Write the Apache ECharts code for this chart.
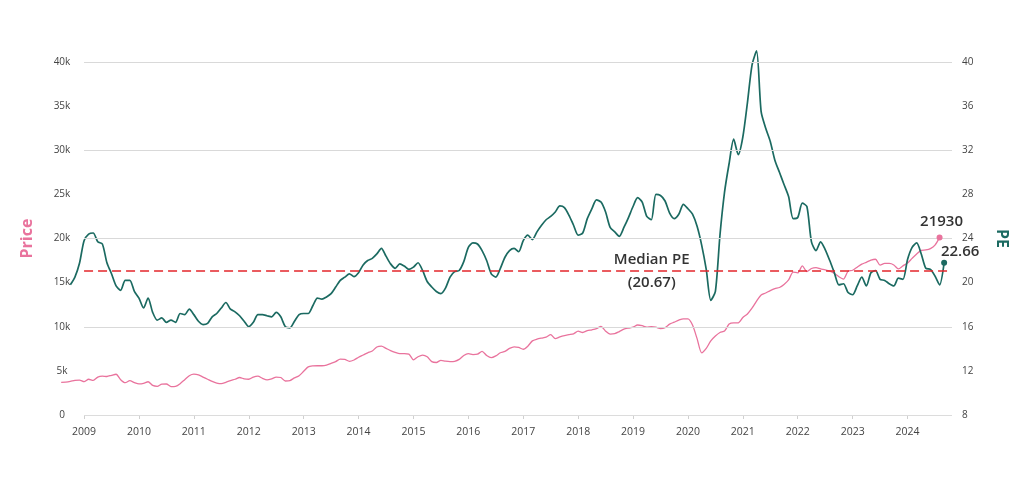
<!DOCTYPE html>
<html>
<head>
<meta charset="utf-8">
<script src="https://cdn.jsdelivr.net/npm/echarts@6/dist/echarts.min.js"></script>
<style>
html,body{margin:0;padding:0;background:#ffffff;}
#chart{width:1024px;height:478px;}
</style>
</head>
<body>
<div id="chart"></div>
<script>
// ---- data (monthly) ----
const priceStart = [2008, 8];   // first month of the price series
const priceValues = [
 3700,3720,3800,3930,3960,
 3780,4050,3920,4300,4400,4360,4500,4620,4000,3660,3890,3680,
 3530,3590,3770,3350,3250,3500,3510,3220,3250,3550,4000,4450,
 4630,4550,4300,4050,3800,3620,3550,3700,3900,4050,4250,4100,
 4050,4300,4400,4150,3980,4100,4300,4250,3850,3900,4200,4450,
 4950,5450,5560,5580,5580,5650,5850,6050,6340,6300,6080,6230,
 6550,6800,7050,7250,7700,7800,7550,7300,7100,6950,6950,6900,
 6250,6600,6790,6600,6050,5950,6200,6100,6050,6080,6300,6750,
 6950,6850,6900,7200,6750,6500,6700,7050,7200,7550,7730,7650,
 7450,7800,8400,8600,8720,8820,9100,8650,8850,9000,9100,9200,
 9500,9350,9550,9650,9780,10050,9500,9170,9220,9450,9720,9850,
 9950,10200,10120,9950,10000,9950,9800,9900,10300,10520,10750,10900,
 10900,10200,8650,7050,7550,8400,8950,9350,9510,10300,10450,10450,
 11050,11450,12100,12900,13600,13820,14100,14320,14450,14800,15300,16200,
 16100,16900,16250,16600,16700,16550,16450,16300,16050,15660,15400,16300,
 16400,16750,17100,17300,17550,17650,16980,17170,17170,17000,16550,16900,
 17220,17750,18250,18650,18700,18850,19250,20100
];
const peStart = [2008, 10];     // first month of the PE series
const peValues = [
 19.8,20.5,21.75,
 23.8,24.4,24.5,23.7,23.5,21.8,20.8,19.7,19.3,20.2,20.2,19.2,
 18.6,17.7,18.6,17.3,16.6,16.8,16.4,16.6,16.4,17.2,17.1,17.6,
 17.1,16.5,16.2,16.3,16.9,17.2,17.7,18.2,17.6,17.35,17.0,16.5,
 16.0,16.4,17.1,17.1,17.0,16.9,17.3,16.9,16.0,15.9,16.5,17.1,
 17.2,17.2,17.9,18.6,18.5,18.7,19.0,19.6,20.2,20.5,20.8,20.55,
 20.9,21.6,22.0,22.2,22.6,23.1,22.4,21.7,21.3,21.7,21.5,21.2,
 21.4,21.8,21.1,20.1,19.6,19.2,19.0,19.5,20.5,21.0,21.1,21.9,
 23.2,23.6,23.5,22.9,22.0,20.8,20.5,21.3,22.3,22.9,23.1,22.8,
 23.8,24.3,23.9,24.6,25.2,25.7,26.0,26.4,26.95,26.8,26.1,25.2,
 24.3,24.5,25.8,26.7,27.5,27.3,26.4,25.0,24.6,24.2,25.0,25.9,
 26.9,27.7,27.3,26.0,25.7,28.0,27.9,27.4,26.3,25.8,26.2,27.1,
 26.7,26.2,25.1,23.4,21.2,18.4,19.2,24.3,28.2,30.8,33.0,31.6,
 33.2,36.3,39.7,41.0,35.5,34.0,32.8,31.1,30.0,28.9,27.8,25.8,
 25.9,27.2,26.9,23.7,22.9,23.7,23.0,22.0,20.9,19.8,19.9,19.1,
 18.9,19.7,20.5,19.7,20.9,21.1,20.3,20.2,19.9,19.7,20.4,20.3,
 22.1,23.2,23.6,22.6,21.3,21.2,20.6,19.8,21.8
];
const xTickYears = [2009,2010,2011,2012,2013,2014,2015,2016,2017,2018,2019,2020,2021,2022,2023,2024];
const priceTickLabels = ['0','5k','10k','15k','20k','25k','30k','35k','40k'];
const peTickLabels = ['8','12','16','20','24','28','32','36','40'];
const gridLineValues = [10000, 20000, 30000, 40000];  // horizontal rules (price axis)
const medianPE = 21.04;            // where the dashed line is drawn
const medianText = ['Median PE', '(20.67)'];
const medianTextYear = 2019.34;
const priceEndText = '21930';
const peEndText = '22.66';
const xMin = 2008.58, xMax = 2024.81, ruleStart = 2009;

// ---- build ----
function toPairs(start, values) {
  return values.map((v, i) => [start[0] + (start[1] - 1 + i) / 12, v]);
}
const priceData = toPairs(priceStart, priceValues);
const peData = toPairs(peStart, peValues);
const lastPrice = priceData[priceData.length - 1];
const lastPE = peData[peData.length - 1];

const PINK = '#e9739d';
const TEAL = '#1b6a61';
const FONT = 'Open Sans';

const ruleLines = [[{coord: [ruleStart, 0], lineStyle: {color: '#dcdcdc'}}, {coord: [xMax, 0]}]]
  .concat(gridLineValues.map(v => [{coord: [ruleStart, v]}, {coord: [xMax, v]}]));

const chart = echarts.init(document.getElementById('chart'), null, {renderer: 'canvas'});
chart.setOption({
  animation: false,
  backgroundColor: '#ffffff',
  textStyle: {fontFamily: FONT},
  grid: {left: 61, right: 72, top: 62, bottom: 63, containLabel: false},
  xAxis: {
    type: 'value', min: xMin, max: xMax,
    axisLine: {show: false},
    axisTick: {show: true, length: 4, lineStyle: {color: '#d0d0d0'}, customValues: xTickYears},
    axisLabel: {color: '#444', fontSize: 10.5, margin: 12, fontFamily: FONT,
      customValues: xTickYears, formatter: v => String(Math.round(v))},
    splitLine: {show: false}
  },
  yAxis: [
    {
      type: 'value', min: 0, max: 40000, interval: 5000, position: 'left', offset: -23,
      axisLine: {show: false}, axisTick: {show: false},
      axisLabel: {color: '#444', fontSize: 10, align: 'center', margin: 22, fontFamily: FONT,
        padding: [0, 0, 9, 0],
        formatter: v => priceTickLabels[Math.round(v / 5000)]},
      splitLine: {show: false},
      name: 'Price', nameLocation: 'middle', nameGap: 49, nameRotate: 90,
      nameTextStyle: {color: PINK, fontSize: 16, fontWeight: 'bold', fontFamily: FONT}
    },
    {
      type: 'value', min: 8, max: 40, interval: 4, position: 'right',
      axisLine: {show: false}, axisTick: {show: false},
      axisLabel: {color: '#444', fontSize: 10, margin: 10, fontFamily: FONT,
        padding: [0, 0, 5, 0],
        formatter: v => peTickLabels[Math.round((v - 8) / 4)]},
      splitLine: {show: false},
      name: 'PE', nameLocation: 'middle', nameGap: 42, nameRotate: -90,
      nameTextStyle: {color: TEAL, fontSize: 16, fontWeight: 'bold', fontFamily: FONT}
    }
  ],
  series: [
    {
      name: 'rules', type: 'line', yAxisIndex: 0, data: [], z: 1, silent: true,
      markLine: {
        silent: true, symbol: 'none', animation: false,
        lineStyle: {color: '#d9d9d9', type: 'solid', width: 1},
        label: {show: false},
        data: ruleLines
      }
    },
    {
      name: 'Price', type: 'line', yAxisIndex: 0, data: priceData,
      symbol: 'none', clip: false, z: 2, smooth: 0.25,
      lineStyle: {color: PINK, width: 1.3},
      markPoint: {
        silent: true,
        data: [{
          coord: lastPrice, symbol: 'circle', symbolSize: 6,
          itemStyle: {color: PINK},
          label: {show: true, position: 'top', distance: 5, offset: [2, 0],
            formatter: priceEndText, color: '#333', fontSize: 15, fontWeight: 600, fontFamily: FONT}
        }]
      }
    },
    {
      name: 'PE', type: 'line', yAxisIndex: 1, data: peData,
      symbol: 'none', clip: false, z: 3, smooth: 0.25,
      lineStyle: {color: TEAL, width: 1.7},
      markLine: {
        silent: true, symbol: 'none',
        lineStyle: {color: '#e3262b', type: [9, 5], width: 1.5},
        label: {show: false},
        data: [[{coord: [ruleStart, medianPE]}, {coord: [xMax, medianPE]}]]
      },
      markPoint: {
        silent: true,
        data: [
          {
            coord: lastPE, symbol: 'circle', symbolSize: 6,
            itemStyle: {color: TEAL},
            label: {show: true, position: 'top', distance: 1, offset: [16, 0],
              formatter: peEndText, color: '#333', fontSize: 15, fontWeight: 600, fontFamily: FONT}
          },
          {
            coord: [medianTextYear, medianPE], symbol: 'circle', symbolSize: 0,
            itemStyle: {color: 'rgba(0,0,0,0)'},
            label: {show: true, position: 'inside', formatter: medianText.join('\n'),
              lineHeight: 23, color: '#333', fontSize: 15, fontWeight: 600, fontFamily: FONT}
          }
        ]
      }
    }
  ]
});
</script>
</body>
</html>
